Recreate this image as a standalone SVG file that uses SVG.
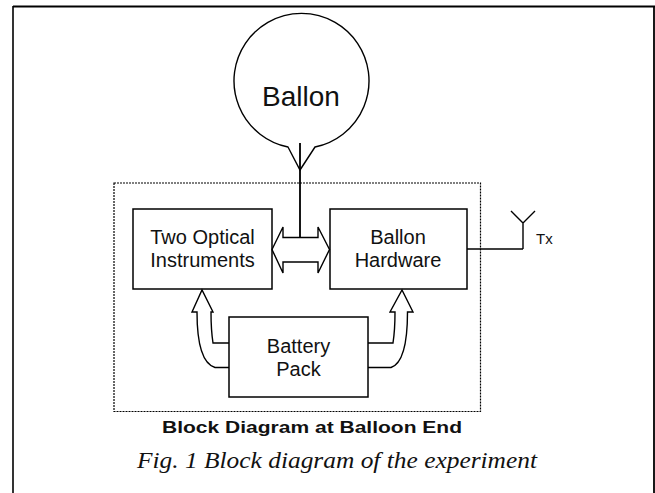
<svg xmlns="http://www.w3.org/2000/svg" width="655" height="493" viewBox="0 0 655 493">
<style>
.ln{fill:none;stroke:#000;stroke-width:1.4;stroke-linejoin:miter}
.box{fill:#fff;stroke:#000;stroke-width:1.5}
.t{font-family:"Liberation Sans",Arial,sans-serif;fill:#111;text-anchor:middle}
</style>
<rect width="655" height="493" fill="#fff"/>
<g id="frame">
<line x1="13" y1="6.5" x2="655" y2="6.5" stroke="#000" stroke-width="2.2"/>
<line x1="13" y1="6" x2="13" y2="493" stroke="#000" stroke-width="1.6"/>
<line x1="654" y1="7" x2="654" y2="493" stroke="#000" stroke-width="1.8"/>
</g>
<g id="enclosure">
<rect x="114" y="183" width="366.5" height="228.5" fill="none" stroke="#000" stroke-width="1.2" stroke-dasharray="2 1"/>
</g>
<g id="balloon">
<path class="ln" d="M288,147 A67.5,67.5 0 1 1 315,147 L300,170 Z" fill="#fff"/>
<text class="t" x="301" y="106" font-size="28">Ballon</text>
</g>
<g id="optical">
<rect class="box" x="133" y="209" width="139" height="80"/>
<text class="t" x="202.5" y="244" font-size="20">Two Optical</text>
<text class="t" x="202.5" y="267" font-size="20">Instruments</text>
</g>
<g id="hardware">
<rect class="box" x="330" y="209" width="137" height="80"/>
<text class="t" x="398" y="244" font-size="20">Ballon</text>
<text class="t" x="398" y="267" font-size="20">Hardware</text>
</g>
<g id="battery">
<rect class="box" x="229" y="317" width="139" height="80"/>
<text class="t" x="298.5" y="353" font-size="20">Battery</text>
<text class="t" x="298.5" y="376" font-size="20">Pack</text>
</g>
<g id="antenna">
<path class="ln" d="M511,211 L523,223 L535,211 M523,223 L523,249"/>
<text x="536" y="244" font-size="15" font-family="Liberation Sans,Arial,sans-serif" fill="#111">Tx</text>
</g>
<g id="connectors">
<path class="ln" d="M300,143 L300,237.5"/>
<path class="ln" fill="#fff" d="M272,249.5 L283,227 L283,237.5 L318,237.5 L318,227 L329.5,249.5 L318,273 L318,262 L283,262 L283,273 Z"/>
<path class="ln" d="M300,143 L300,237.5"/>
<path class="ln" fill="#fff" d="M229,343 L213,343 Q211,330 211,312 L213,312 L202,290 L192,312 L197,312 Q197,362 215,367.5 L229,367.5"/>
<path class="ln" fill="#fff" d="M368,343 L393,343 Q395,330 395,312 L390,312 L402,290 L413,312 L407.5,312 Q407.5,362 391,367.5 L368,367.5"/>
<path class="ln" d="M467,249 L523,249"/>
</g>
<g id="captions">
<text class="t" x="312" y="433" font-size="17" font-weight="bold" textLength="300" lengthAdjust="spacingAndGlyphs">Block Diagram at Balloon End</text>
<text x="337" y="468" font-size="24" font-style="italic" font-family="Liberation Serif,Times New Roman,serif" fill="#111" text-anchor="middle" textLength="400" lengthAdjust="spacingAndGlyphs">Fig. 1 Block diagram of the experiment</text>
</g>
</svg>
